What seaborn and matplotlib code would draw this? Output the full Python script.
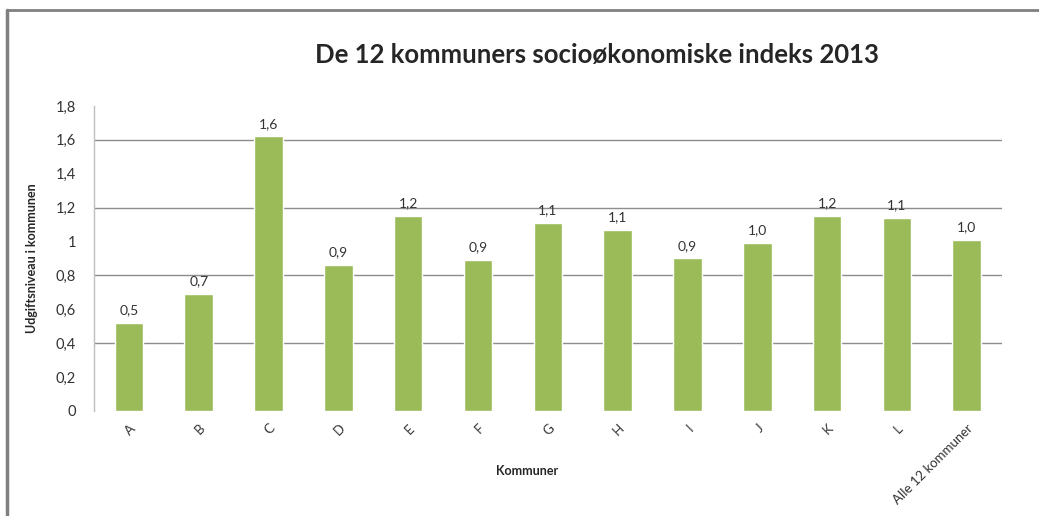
import matplotlib
matplotlib.use("Agg")
import matplotlib.pyplot as plt
from matplotlib.lines import Line2D
import seaborn as sns
import pandas as pd

kommuner = ["A", "B", "C", "D", "E", "F", "G", "H", "I", "J", "K", "L", "Alle 12 kommuner"]
indeks = [0.52, 0.69, 1.62, 0.86, 1.15, 0.89, 1.11, 1.07, 0.90, 0.99, 1.15, 1.14, 1.01]
labels = ["0,5", "0,7", "1,6", "0,9", "1,2", "0,9", "1,1", "1,1", "0,9", "1,0", "1,2", "1,1", "1,0"]
yticks = [0, 0.2, 0.4, 0.6, 0.8, 1.0, 1.2, 1.4, 1.6, 1.8]
ytick_labels = ["0", "0,2", "0,4", "0,6", "0,8", "1", "1,2", "1,4", "1,6", "1,8"]
grid_vals = [0.4, 0.8, 1.2, 1.6]

sns.set_style("white")
plt.rcParams['font.family'] = ['Lato', 'DejaVu Sans']

df = pd.DataFrame({'Kommune': kommuner, 'Indeks': indeks})

fig = plt.figure(figsize=(10.39, 5.16), dpi=100)
ax = fig.add_axes([0.0905, 0.2035, 0.8735, 0.5911])

for g in grid_vals:
    ax.axhline(g, color='#8c8c8c', linewidth=1, zorder=0)

sns.barplot(data=df, x='Kommune', y='Indeks', color='#9BBB59', saturation=1,
            width=0.41, ax=ax, zorder=2)

for i, (v, lab) in enumerate(zip(indeks, labels)):
    ax.text(i, v + 0.04, lab, ha='center', va='bottom', fontsize=10, color='#333333')

ax.set_ylim(0, 1.8)
ax.set_xlim(-0.5, len(kommuner) - 0.5)
ax.set_yticks(yticks)
ax.set_yticklabels(ytick_labels, fontsize=10.5, color='#333333')
ax.set_xticks(range(len(kommuner)))
ax.set_xticklabels(kommuner, rotation=45, ha='right', rotation_mode='anchor',
                   fontsize=9.5, color='#333333')
ax.tick_params(axis='both', length=0)
ax.tick_params(axis='y', pad=13)
ax.tick_params(axis='x', pad=8)

for s in ['top', 'right', 'bottom']:
    ax.spines[s].set_visible(False)
ax.spines['left'].set_color('#bfbfbf')
ax.spines['left'].set_linewidth(1)

ax.set_xlabel('Kommuner', fontsize=9, fontweight='bold')
ax.set_ylabel('Udgiftsniveau i kommunen', fontsize=9, fontweight='bold')
ax.xaxis.set_label_coords(0.477, -0.177)
ax.yaxis.set_label_coords(-0.062, 0.5)

fig.text(0.575, 0.893, 'De 12 kommuners socioøkonomiske indeks 2013',
         ha='center', va='center', fontsize=18.5, fontweight='bold')

# outer frame of the chart area
fig.add_artist(Line2D([0.0072, 0.0072], [0, 0.98], transform=fig.transFigure,
                      color='#808080', linewidth=2.5))
fig.add_artist(Line2D([0.0072, 1], [0.98, 0.98], transform=fig.transFigure,
                      color='#808080', linewidth=2))

plt.savefig('out.png', dpi=100)
